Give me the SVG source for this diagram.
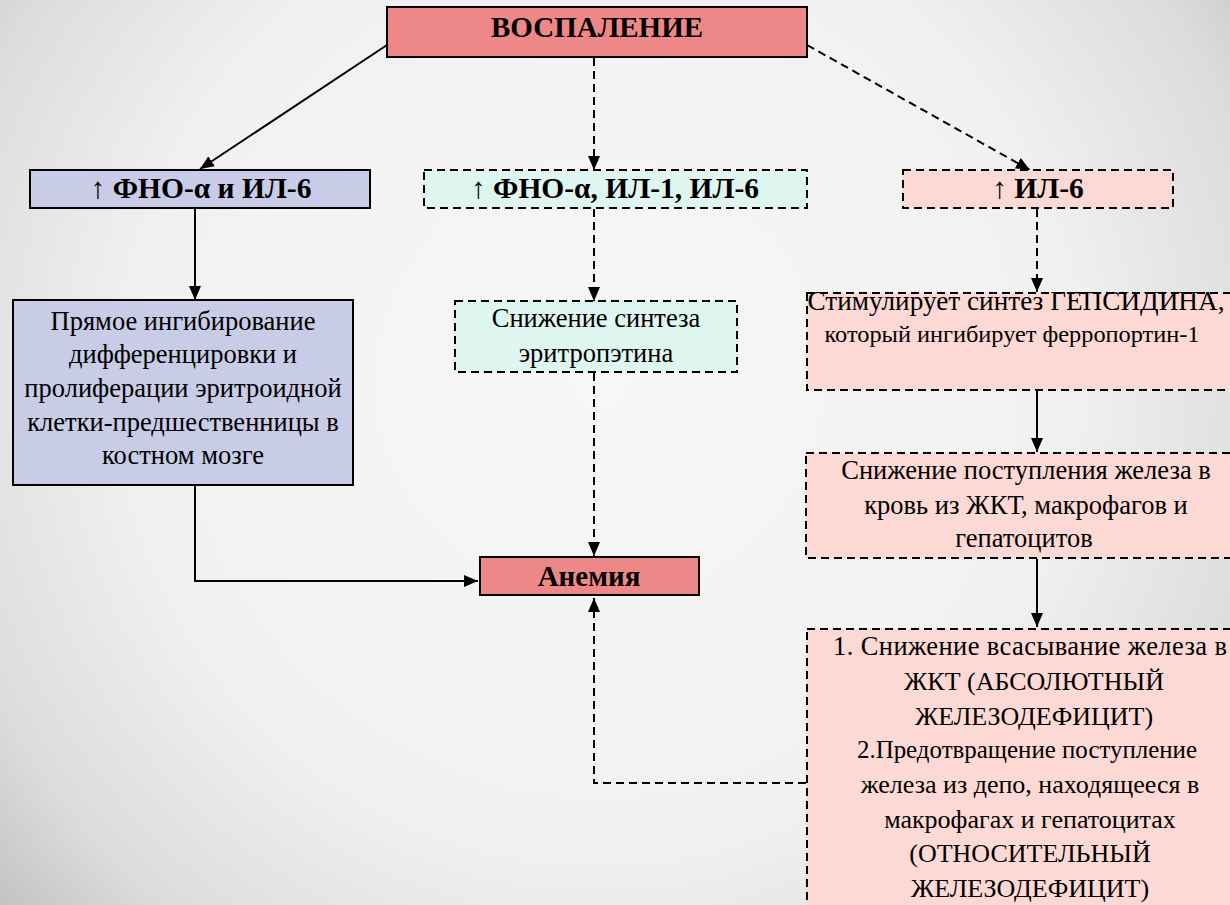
<svg xmlns="http://www.w3.org/2000/svg" width="1230" height="905" viewBox="0 0 1230 905">
<defs>
<radialGradient id="bg" cx="600" cy="380" r="850" gradientUnits="userSpaceOnUse">
<stop offset="0" stop-color="#f7f7f7"/>
<stop offset="0.55" stop-color="#f1f1f1"/>
<stop offset="0.8" stop-color="#dcdcdc"/>
<stop offset="1" stop-color="#b8b8b8"/>
</radialGradient>
<marker id="ah" markerUnits="userSpaceOnUse" markerWidth="16" markerHeight="16" viewBox="0 0 16 16" refX="14" refY="8" orient="auto">
<path d="M0,2 L14,8 L0,14 Z" fill="#000"/>
</marker>
<style>
.solid{fill:none;stroke:#000;stroke-width:2}
.dash{fill:none;stroke:#000;stroke-width:2;stroke-dasharray:8 5}
.red{fill:#ee8787;stroke:#000;stroke-width:2}
.lav{fill:#c9cce6;stroke:#000;stroke-width:2}
.grn{fill:#dff5ef;stroke:#000;stroke-width:2;stroke-dasharray:8 5}
.pnk{fill:#fcd9d4;stroke:#000;stroke-width:2;stroke-dasharray:8 5}
</style>
</defs>
<rect x="0" y="0" width="1230" height="905" fill="url(#bg)"/>

<g id="connectors">
<line class="solid" x1="387" y1="45" x2="200" y2="169" marker-end="url(#ah)"/>
<line class="dash" x1="594" y1="58" x2="594" y2="170" marker-end="url(#ah)"/>
<line class="dash" x1="807" y1="45" x2="1030" y2="170" marker-end="url(#ah)"/>
<line class="solid" x1="195" y1="209" x2="195" y2="300" marker-end="url(#ah)"/>
<line class="dash" x1="594" y1="209" x2="594" y2="301" marker-end="url(#ah)"/>
<line class="dash" x1="1037" y1="209" x2="1037" y2="292" marker-end="url(#ah)"/>
<polyline class="solid" points="195,486 195,581 478,581" marker-end="url(#ah)"/>
<line class="dash" x1="594" y1="373" x2="594" y2="556" marker-end="url(#ah)"/>
<line class="solid" x1="1037" y1="391" x2="1037" y2="452" marker-end="url(#ah)"/>
<line class="solid" x1="1037" y1="559" x2="1037" y2="627" marker-end="url(#ah)"/>
<polyline class="dash" points="806,783 594,783 594,598" marker-end="url(#ah)"/>
</g>

<g id="n-vospalenie">
<rect class="red" x="387" y="7" width="420" height="50"/>
<text x="597" y="37" font-size="29" font-weight="bold" text-anchor="middle" font-family="Liberation Serif">ВОСПАЛЕНИЕ</text>
</g>
<g id="n-fno-il6">
<rect class="lav" x="30" y="170" width="340" height="38"/>
<text x="201" y="198" font-size="29.5" font-weight="bold" text-anchor="middle" font-family="Liberation Serif">↑ ФНО-α и ИЛ-6</text>
</g>
<g id="n-fno-il1-il6">
<rect class="grn" x="424" y="170" width="383" height="38"/>
<text x="615" y="198" font-size="29.5" font-weight="bold" text-anchor="middle" font-family="Liberation Serif">↑ ФНО-α, ИЛ-1, ИЛ-6</text>
</g>
<g id="n-il6">
<rect class="pnk" x="903" y="170" width="270" height="38"/>
<text x="1038" y="198" font-size="29.5" font-weight="bold" text-anchor="middle" font-family="Liberation Serif">↑ ИЛ-6</text>
</g>
<g id="n-pryamoe">
<rect class="lav" x="13" y="300" width="340" height="185"/>
<text x="183" y="330" font-size="26.5" text-anchor="middle" font-family="Liberation Serif">Прямое ингибирование</text>
<text x="183" y="363" font-size="26.5" text-anchor="middle" font-family="Liberation Serif">дифференцировки и</text>
<text x="183" y="397" font-size="26.5" text-anchor="middle" font-family="Liberation Serif">пролиферации эритроидной</text>
<text x="183" y="431" font-size="26.5" text-anchor="middle" font-family="Liberation Serif">клетки-предшественницы в</text>
<text x="183" y="464" font-size="26.5" text-anchor="middle" font-family="Liberation Serif">костном мозге</text>
</g>
<g id="n-snizhenie-epo">
<rect class="grn" x="455" y="301" width="282" height="71"/>
<text x="596" y="327" font-size="26.5" text-anchor="middle" font-family="Liberation Serif">Снижение синтеза</text>
<text x="596" y="362" font-size="26.5" text-anchor="middle" font-family="Liberation Serif">эритропэтина</text>
</g>
<g id="n-anemia">
<rect class="red" x="480" y="557" width="219" height="38"/>
<text x="589" y="586" font-size="29" font-weight="bold" text-anchor="middle" font-family="Liberation Serif">Анемия</text>
</g>
<g id="n-gepcidin">
<rect class="pnk" x="807" y="293" width="440" height="97"/>
<text x="1016" y="310" font-size="26.5" text-anchor="middle" textLength="417" lengthAdjust="spacingAndGlyphs" font-family="Liberation Serif">Стимулирует синтез ГЕПСИДИНА,</text>
<text x="1012" y="342" font-size="24" text-anchor="middle" textLength="375" lengthAdjust="spacingAndGlyphs" font-family="Liberation Serif">который ингибирует ферропортин-1</text>
</g>
<g id="n-postuplenie">
<rect class="pnk" x="806" y="453" width="440" height="105"/>
<text x="1026" y="479" font-size="26.5" text-anchor="middle" font-family="Liberation Serif">Снижение поступления железа в</text>
<text x="1026" y="514" font-size="26.5" text-anchor="middle" font-family="Liberation Serif">кровь из ЖКТ, макрофагов и</text>
<text x="1024" y="547" font-size="26.5" text-anchor="middle" font-family="Liberation Serif">гепатоцитов</text>
</g>
<g id="n-deficit">
<rect class="pnk" x="807" y="629" width="440" height="300"/>
<text x="1030" y="655" font-size="26.5" text-anchor="middle" textLength="394" lengthAdjust="spacing" font-family="Liberation Serif">1. Снижение всасывание железа в</text>
<text x="1034" y="690" font-size="26" text-anchor="middle" font-family="Liberation Serif">ЖКТ (АБСОЛЮТНЫЙ</text>
<text x="1034" y="725" font-size="26" text-anchor="middle" font-family="Liberation Serif">ЖЕЛЕЗОДЕФИЦИТ)</text>
<text x="1027" y="758" font-size="26" text-anchor="middle" textLength="340" lengthAdjust="spacingAndGlyphs" font-family="Liberation Serif">2.Предотвращение поступление</text>
<text x="1030" y="793" font-size="26" text-anchor="middle" font-family="Liberation Serif">железа из депо, находящееся в</text>
<text x="1030" y="828" font-size="26" text-anchor="middle" font-family="Liberation Serif">макрофагах и гепатоцитах</text>
<text x="1030" y="862" font-size="26" text-anchor="middle" font-family="Liberation Serif">(ОТНОСИТЕЛЬНЫЙ</text>
<text x="1030" y="897" font-size="26" text-anchor="middle" font-family="Liberation Serif">ЖЕЛЕЗОДЕФИЦИТ)</text>
</g>
</svg>
